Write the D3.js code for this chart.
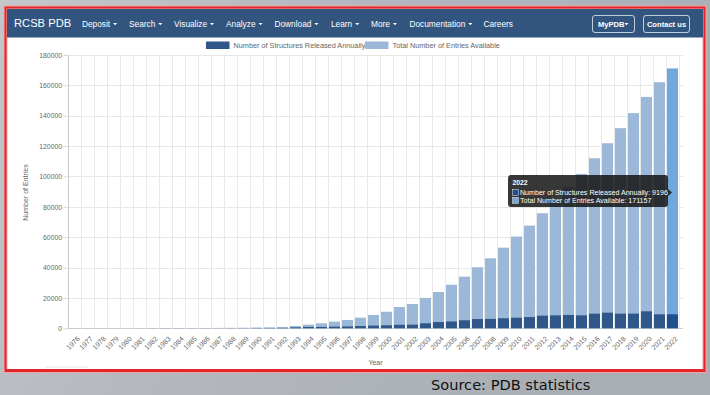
<!DOCTYPE html>
<html>
<head>
<meta charset="utf-8">
<script src="https://cdn.jsdelivr.net/npm/d3@7"></script>
<style>
  body { margin: 0; background: #b7bbc1; }
  svg { display: block; font-family: "Liberation Sans", Arial, sans-serif; }
</style>
</head>
<body>
<svg width="710" height="395"></svg>
<script>
// data
const years = d3.range(1976, 2023).map(String)
const annualReleased = [13, 27, 12, 12, 5, 11, 30, 40, 30, 20, 30, 30, 50, 70, 120, 150, 250, 600, 900, 900,
  1100, 1200, 1500, 1800, 2000, 2300, 2400, 3300, 4100, 4500, 5300, 6100, 6200, 6600, 7000, 7400, 8300,
  8550, 8800, 8550, 9650, 10300, 9650, 9650, 11200, 9200, 9196]
const totalEntries = [13, 40, 52, 64, 69, 80, 110, 150, 180, 200, 230, 260, 310, 380, 500, 650, 900, 1500,
  2400, 3300, 4400, 5500, 7000, 8800, 10900, 14000, 16000, 20000, 23900, 28700, 34000, 40200, 46100,
  53100, 60400, 67600, 75800, 84350, 93150, 101700, 112000, 121900, 131800, 141700, 152400, 162100, 171157]
const yTicks = [0, 20000, 40000, 60000, 80000, 100000, 120000, 140000, 160000, 180000]
const seriesNames = ["Number of Structures Released Annually", "Total Number of Entries Available"]
const navItems = ["Deposit", "Search", "Visualize", "Analyze", "Download", "Learn", "More", "Documentation", "Careers"]
const navX = [82, 129, 174, 226, 274.5, 331, 371, 409.5, 483.5]
const hoverYear = "2022"

const svg = d3.select("svg")
const width = +svg.attr("width")
const height = +svg.attr("height")

const darkCol = "#30578a"
const lightCol = "#9cb8d8"
const darkHover = "#1f4f8c"
const lightHover = "#70a8de"
const font = "'Liberation Sans', Arial, sans-serif"

// slide background
const defs = svg.append("defs")
const bg = defs.append("linearGradient").attr("id", "bg").attr("x1", 0).attr("y1", 0).attr("x2", 1).attr("y2", 0.3)
bg.append("stop").attr("offset", "0%").attr("stop-color", "#c3c7cc")
bg.append("stop").attr("offset", "50%").attr("stop-color", "#b3b7bd")
bg.append("stop").attr("offset", "100%").attr("stop-color", "#a9aeb5")
svg.append("rect").attr("width", width).attr("height", height).attr("fill", "url(#bg)")

// red frame + white page
svg.append("rect")
  .attr("x", 5.5).attr("y", 7.5).attr("width", 699).attr("height", 363.5)
  .attr("fill", "#fff").attr("stroke", "#f3a3a3").attr("stroke-width", 4)
svg.append("rect")
  .attr("x", 5.5).attr("y", 7.5).attr("width", 699).attr("height", 363.5)
  .attr("fill", "none").attr("stroke", "#e3262b").attr("stroke-width", 2)

// nav bar
svg.append("rect").attr("x", 7).attr("y", 9).attr("width", 696).attr("height", 28.5).attr("fill", "#31557f")

svg.append("text").text("RCSB PDB")
  .attr("x", 14).attr("y", 27.3)
  .attr("fill", "#fff").attr("font-size", 11.2)

const caret = (cx, cy) => `M ${cx - 2} ${cy - 1} L ${cx + 2} ${cy - 1} L ${cx} ${cy + 1.3} Z`

navItems.forEach((name, i) => {
  const t = svg.append("text").text(name)
    .attr("x", navX[i]).attr("y", 26.7)
    .attr("fill", "#fff").attr("font-size", 8.3)
  if (name !== "Careers") {
    const w = t.node().getComputedTextLength()
    svg.append("path").attr("d", caret(navX[i] + w + 5, 24)).attr("fill", "#fff")
  }
})

// buttons
svg.append("rect").attr("x", 592.5).attr("y", 15.5).attr("width", 42).attr("height", 17).attr("rx", 2.5)
  .attr("fill", "none").attr("stroke", "#e8edf3").attr("stroke-width", 0.8)
svg.append("text").text("MyPDB").attr("x", 598).attr("y", 26.5)
  .attr("fill", "#fff").attr("font-size", 7.6).attr("font-weight", "bold")
svg.append("path").attr("d", caret(626.5, 24)).attr("fill", "#fff")
svg.append("rect").attr("x", 643.5).attr("y", 15.5).attr("width", 46).attr("height", 17).attr("rx", 2.5)
  .attr("fill", "none").attr("stroke", "#e8edf3").attr("stroke-width", 0.8)
svg.append("text").text("Contact us").attr("x", 666.5).attr("y", 26.5).attr("text-anchor", "middle")
  .attr("fill", "#fff").attr("font-size", 7.6).attr("font-weight", "bold")

// chart area
const plot = { left: 68, right: 679, gridRight: 683, top: 55, bottom: 328.3 }

const x = d3.scaleBand()
  .domain(years)
  .range([plot.left, plot.right])
  .paddingInner(0.15)
  .paddingOuter(0.075)

const y = d3.scaleLinear()
  .domain([0, 180000])
  .range([plot.bottom, plot.top])

const g = svg.append("g")

// horizontal grid
g.selectAll("line.hgrid").data(yTicks).join("line")
  .attr("class", "hgrid")
  .attr("x1", plot.left).attr("x2", plot.gridRight)
  .attr("y1", d => Math.round(y(d)) + 0.5).attr("y2", d => Math.round(y(d)) + 0.5)
  .attr("stroke", d => d === 0 ? "#d0d0d0" : "#e6e6e6").attr("stroke-width", 1)

// vertical grid on category boundaries
g.selectAll("line.vgrid").data(d3.range(years.length + 1)).join("line")
  .attr("class", "vgrid")
  .attr("x1", i => Math.round(plot.left + i * x.step()) + 0.5)
  .attr("x2", i => Math.round(plot.left + i * x.step()) + 0.5)
  .attr("y1", plot.top).attr("y2", plot.bottom)
  .attr("stroke", "#e9e9e9").attr("stroke-width", 1)

// y axis
const yAxis = d3.axisLeft(y).tickValues(yTicks).tickSize(5).tickPadding(1.5).tickFormat(d3.format("d"))
const yAxisG = g.append("g").attr("transform", `translate(${plot.left + 0.5},0)`).call(yAxis)
yAxisG.select(".domain").attr("stroke", "#c8c8c8").attr("d", `M0,${plot.top}V${plot.bottom}`)
yAxisG.selectAll(".tick line").attr("stroke", "#d8d8d8")
yAxisG.selectAll(".tick text").attr("fill", "#666").attr("font-size", 6.8).attr("font-family", font)

// x axis
const xAxis = d3.axisBottom(x).tickSize(0).tickPadding(4)
const xAxisG = g.append("g").attr("transform", `translate(0,${plot.bottom})`).call(xAxis)
xAxisG.select(".domain").remove()
xAxisG.selectAll(".tick text")
  .attr("fill", "#666").attr("font-size", 7).attr("font-family", font)
  .attr("text-anchor", "end")
  .attr("dy", 0)
  .attr("transform", "translate(3,8) rotate(-45)")

// bars: total behind, annual in front
g.selectAll("rect.total").data(years).join("rect")
  .attr("class", "total")
  .attr("x", d => x(d))
  .attr("width", x.bandwidth())
  .attr("y", (d, i) => y(totalEntries[i]))
  .attr("height", (d, i) => y(0) - y(totalEntries[i]))
  .attr("fill", d => d === hoverYear ? lightHover : lightCol)

g.selectAll("rect.annual").data(years).join("rect")
  .attr("class", "annual")
  .attr("x", d => x(d))
  .attr("width", x.bandwidth())
  .attr("y", (d, i) => y(annualReleased[i]))
  .attr("height", (d, i) => y(0) - y(annualReleased[i]))
  .attr("fill", d => d === hoverYear ? darkHover : darkCol)

// axis titles
svg.append("text").text("Number of Entries")
  .attr("transform", "translate(27.5,192.5) rotate(-90)")
  .attr("text-anchor", "middle").attr("fill", "#666").attr("font-size", 7)
svg.append("text").text("Year")
  .attr("x", (plot.left + plot.gridRight) / 2).attr("y", 364.5)
  .attr("text-anchor", "middle").attr("fill", "#666").attr("font-size", 7)

// legend
const legendX = [206, 365]
seriesNames.forEach((name, i) => {
  svg.append("rect").attr("x", legendX[i]).attr("y", 41.5).attr("width", 23.5).attr("height", 7.5)
    .attr("fill", i === 0 ? darkCol : lightCol)
  svg.append("text").text(name)
    .attr("x", legendX[i] + 27.5).attr("y", 48.2)
    .attr("fill", "#666").attr("font-size", 7.3)
})

// tooltip for the hovered year
const hi = years.indexOf(hoverYear)
const tip = svg.append("g")
tip.append("path")
  .attr("d", "M 511 175 H 665 Q 668 175 668 178 V 189 L 672 192.5 L 668 196 V 204 Q 668 207 665 207 H 511 Q 508 207 508 204 V 178 Q 508 175 511 175 Z")
  .attr("fill", "rgba(22,22,22,0.86)")
tip.append("text").text(hoverYear)
  .attr("x", 512.5).attr("y", 184.5).attr("fill", "#fff").attr("font-size", 6.8).attr("font-weight", "bold")
const tipRows = [
  { label: seriesNames[0], value: annualReleased[hi], color: darkHover },
  { label: seriesNames[1], value: totalEntries[hi], color: lightHover }
]
tipRows.forEach((r, i) => {
  tip.append("rect").attr("x", 512.5).attr("y", 189.5 + i * 7.8).attr("width", 6).attr("height", 6)
    .attr("fill", r.color).attr("stroke", "#eee").attr("stroke-width", 0.5)
  tip.append("text").text(`${r.label}: ${r.value}`)
    .attr("x", 520).attr("y", 195.3 + i * 7.8).attr("fill", "#fff").attr("font-size", 7.1)
})

// leftover button edge just above the frame's bottom line
svg.append("rect").attr("x", 45.5).attr("y", 367).attr("width", 42).attr("height", 3).attr("rx", 1.5)
  .attr("fill", "#fff").attr("stroke", "#ddd").attr("stroke-width", 0.8)
svg.append("line").attr("x1", 5.5).attr("x2", 704.5).attr("y1", 370).attr("y2", 370)
  .attr("stroke", "#e3262b").attr("stroke-width", 2)

// slide source note
svg.append("text").text("Source: PDB statistics")
  .attr("x", 431).attr("y", 389.5)
  .attr("fill", "#111").attr("font-size", 14.6).attr("font-family", "'DejaVu Sans', Verdana, sans-serif")
</script>
</body>
</html>
